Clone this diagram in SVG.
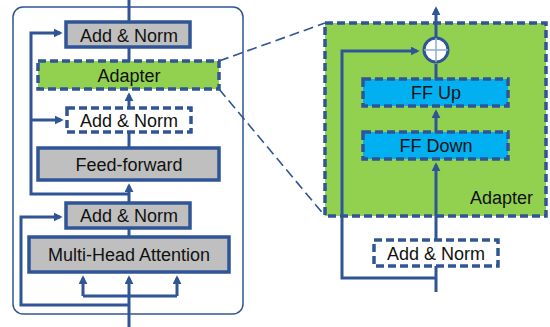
<svg xmlns="http://www.w3.org/2000/svg" width="550" height="327" viewBox="0 0 550 327">
<style>
.box{stroke:#2F5597;stroke-width:3.5}
.gray{fill:#BFBFBF}
.dash{stroke-dasharray:8 4}
.ln{fill:none;stroke:#2F5597;stroke-width:3}
.t{font-family:"Liberation Sans",Arial,sans-serif;font-size:18px;fill:#111;text-anchor:middle}
</style>
<defs>
<marker id="ah" viewBox="0 0 10 10" refX="7" refY="5" markerWidth="9" markerHeight="9" markerUnits="userSpaceOnUse" orient="auto">
<path d="M0,0 L10,5 L0,10 z" fill="#2F5597"/>
</marker>
</defs>
<rect x="13" y="7" width="230" height="307" rx="10" fill="none" stroke="#2F5597" stroke-width="1.5"/>
<g id="connectors">
<path class="ln" d="M129 0 V22"/>
<path class="ln" d="M129 47 V61"/>
<path class="ln" d="M129 108 V95" marker-end="url(#ah)"/>
<path class="ln" d="M129 148 V132"/>
<path class="ln" d="M129 203 V186" marker-end="url(#ah)"/>
<path class="ln" d="M129 237 V228"/>
<path class="ln" d="M129 327 V278" marker-end="url(#ah)"/>
<path class="ln" d="M83 296 H177"/>
<path class="ln" d="M83 296 V278" marker-end="url(#ah)"/>
<path class="ln" d="M177 296 V278" marker-end="url(#ah)"/>
<path class="ln" d="M129 305 H21 V217 H60" marker-end="url(#ah)"/>
<path class="ln" d="M129 194 H31 V33 H60" marker-end="url(#ah)"/>
<path class="ln" d="M31 120 H61" marker-end="url(#ah)"/>
<path fill="none" stroke="#2F5597" stroke-width="1.6" stroke-dasharray="10 5" d="M219 61 L325 23"/>
<path fill="none" stroke="#2F5597" stroke-width="1.6" stroke-dasharray="10 5" d="M219 89 L325 216"/>
</g>
<g id="adapter-detail">
<rect x="325" y="23" width="221" height="193" fill="#92D050" class="box dash"/>
<text class="t" x="533" y="204" style="text-anchor:end">Adapter</text>
</g>
<g id="right-connectors">
<path class="ln" d="M436 37 V9" marker-end="url(#ah)"/>
<path class="ln" d="M436 79 V64"/>
<path class="ln" d="M436 132 V112" marker-end="url(#ah)"/>
<path class="ln" d="M436 240 V165" marker-end="url(#ah)"/>
<path class="ln" d="M436 292 V266"/>
<path class="ln" d="M436 278 H342 V51 H417" marker-end="url(#ah)"/>
</g>
<g id="add-norm-top">
<rect x="66" y="22" width="124" height="25" class="box gray"/>
<text class="t" x="129" y="41.5">Add &amp; Norm</text>
</g>
<g id="adapter">
<rect x="38" y="61" width="181" height="28" fill="#92D050" class="box dash"/>
<text class="t" x="129" y="81.5">Adapter</text>
</g>
<g id="add-norm-dashed">
<rect x="67" y="108" width="124" height="24" fill="#fff" class="box dash"/>
<text class="t" x="129" y="127">Add &amp; Norm</text>
</g>
<g id="feed-forward">
<rect x="38" y="148" width="181" height="32" class="box gray"/>
<text class="t" x="129" y="170.5">Feed-forward</text>
</g>
<g id="add-norm-bottom">
<rect x="66" y="203" width="124" height="25" class="box gray"/>
<text class="t" x="129" y="222">Add &amp; Norm</text>
</g>
<g id="mha">
<rect x="29" y="237" width="200" height="35" class="box gray"/>
<text class="t" x="129" y="261">Multi-Head Attention</text>
</g>
<g id="sum">
<circle cx="436" cy="50" r="12" fill="#fff" stroke="#2F5597" stroke-width="3"/>
<path d="M424 50 H448 M436 38 V62" stroke="#8FAADC" stroke-width="1.5"/>
</g>
<g id="ff-up">
<rect x="363" y="79" width="145" height="27" fill="#00B0F0" class="box dash"/>
<text class="t" x="436" y="99">FF Up</text>
</g>
<g id="ff-down">
<rect x="363" y="132" width="145" height="27" fill="#00B0F0" class="box dash"/>
<text class="t" x="436" y="152">FF Down</text>
</g>
<g id="add-norm-right">
<rect x="374" y="240" width="124" height="26" fill="#fff" class="box dash"/>
<text class="t" x="436" y="259.5">Add &amp; Norm</text>
</g>
</svg>
